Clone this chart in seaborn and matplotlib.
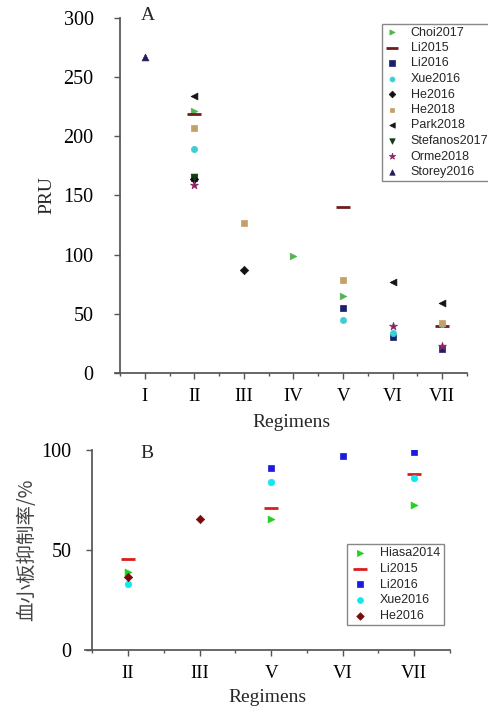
import matplotlib
matplotlib.use("Agg")
import matplotlib.pyplot as plt
import seaborn as sns
import numpy as np
import pandas as pd
from matplotlib.ticker import MultipleLocator, FixedLocator

# ---------------- data ----------------
regimens_a = ["I", "II", "III", "IV", "V", "VI", "VII"]
regimens_b = ["II", "III", "V", "VI", "VII"]

# Panel A: PRU values per study (regimen label, value)
choi2017_reg = ["II", "IV", "V"];               choi2017_val = [221, 99, 65]
li2015_reg = ["II", "V", "VII"];                li2015_val = [219, 140, 40]
li2016_reg = ["II", "V", "VI", "VII"];          li2016_val = [165, 55, 30, 20]
xue2016_reg = ["II", "V", "VI", "VII"];         xue2016_val = [189, 45, 34, 41]
he2016_reg = ["II", "III"];                     he2016_val = [164, 87]
he2018_reg = ["II", "III", "V", "VII"];         he2018_val = [207, 127, 79, 42]
park2018_reg = ["II", "VI", "VII"];             park2018_val = [234, 77, 59]
stefanos2017_reg = ["II"];                      stefanos2017_val = [166]
orme2018_reg = ["II", "VI", "VII"];             orme2018_val = [159, 40, 23]
storey2016_reg = ["I"];                         storey2016_val = [267]

# Panel B: platelet inhibition rate (%)
hiasa2014_reg = ["II", "V", "VII"];             hiasa2014_val = [39, 65.5, 72.5]
b_li2015_reg = ["II", "V", "VII"];              b_li2015_val = [45.5, 71, 88]
b_li2016_reg = ["V", "VI", "VII"];              b_li2016_val = [91, 97, 99]
b_xue2016_reg = ["II", "V", "VII"];             b_xue2016_val = [33, 84, 86]
b_he2016_reg = ["II", "III"];                   b_he2016_val = [36.5, 65.5]

series_a = [
    ("Choi2017", choi2017_reg, choi2017_val),
    ("Li2015", li2015_reg, li2015_val),
    ("Li2016", li2016_reg, li2016_val),
    ("Xue2016", xue2016_reg, xue2016_val),
    ("He2016", he2016_reg, he2016_val),
    ("He2018", he2018_reg, he2018_val),
    ("Park2018", park2018_reg, park2018_val),
    ("Stefanos2017", stefanos2017_reg, stefanos2017_val),
    ("Orme2018", orme2018_reg, orme2018_val),
    ("Storey2016", storey2016_reg, storey2016_val),
]
series_b = [
    ("Hiasa2014", hiasa2014_reg, hiasa2014_val),
    ("Li2015", b_li2015_reg, b_li2015_val),
    ("Li2016", b_li2016_reg, b_li2016_val),
    ("Xue2016", b_xue2016_reg, b_xue2016_val),
    ("He2016", b_he2016_reg, b_he2016_val),
]

style_a = {
    "Choi2017": dict(marker=">", color="#52b452", s=22),
    "Li2015": dict(marker="_", color="#6e1c1c", s=110, linewidths=2),
    "Li2016": dict(marker="s", color="#1c1f6e", s=22),
    "Xue2016": dict(marker="o", color="#3ccfcf", s=20),
    "He2016": dict(marker="D", color="#111111", s=18),
    "He2018": dict(marker="s", color="#c4a068", s=20),
    "Park2018": dict(marker="<", color="#151515", s=24),
    "Stefanos2017": dict(marker="v", color="#0d3d12", s=24),
    "Orme2018": dict(marker="*", color="#8c2466", s=36),
    "Storey2016": dict(marker="^", color="#2a1a5c", s=24),
}
style_b = {
    "Hiasa2014": dict(marker=">", color="#22d022", s=24),
    "Li2015": dict(marker="_", color="#dd1c1c", s=110, linewidths=2),
    "Li2016": dict(marker="s", color="#1a1ae0", s=22),
    "Xue2016": dict(marker="o", color="#10e8f0", s=22),
    "He2016": dict(marker="D", color="#7a0a0a", s=18),
}

serif = ["Liberation Serif", "DejaVu Serif"]
sans = ["Liberation Sans", "DejaVu Sans"]

sns.set_theme(style="ticks")
plt.rcParams["font.family"] = serif
plt.rcParams["axes.edgecolor"] = "#555555"
plt.rcParams["xtick.color"] = "#555555"
plt.rcParams["ytick.color"] = "#555555"
plt.rcParams["xtick.labelcolor"] = "black"
plt.rcParams["ytick.labelcolor"] = "black"

fig = plt.figure(figsize=(4.89, 7.09), dpi=100)
axA = fig.add_axes([115 / 489, 1 - 373 / 709, 352 / 489, 355 / 709])
axB = fig.add_axes([85 / 489, 59 / 709, 365 / 489, 200 / 709])


def draw(ax, series, styles, cats):
    pos = {c: i + 1 for i, c in enumerate(cats)}
    for name, regs, vals in series:
        df = pd.DataFrame({"x": [pos[r] for r in regs], "y": vals})
        st = dict(styles[name])
        kw = {}
        if st["marker"] != "_":
            kw["edgecolor"] = st["color"]
            kw["linewidth"] = 0.5
        sns.scatterplot(data=df, x="x", y="y", ax=ax, label=name, zorder=3,
                        legend=False, **st, **kw)
    ax.set_xlim(0.4, len(cats) + 0.5)
    ax.xaxis.set_major_locator(FixedLocator(range(1, len(cats) + 1)))
    ax.xaxis.set_minor_locator(MultipleLocator(0.5))
    ax.set_xticklabels(cats)
    ax.spines["top"].set_visible(False)
    ax.spines["right"].set_visible(False)
    ax.spines["left"].set_position(("data", 0.5))
    ax.tick_params(axis="both", which="major", length=4, width=1)
    ax.tick_params(axis="x", which="major", labelsize=13.5, pad=7)
    ax.tick_params(axis="y", which="major", labelsize=14.5)
    ax.tick_params(axis="x", which="minor", length=2.5, width=1)


draw(axA, series_a, style_a, regimens_a)
draw(axB, series_b, style_b, regimens_b)

# Panel A axes
axA.set_ylim(0, 300)
axA.yaxis.set_major_locator(MultipleLocator(50))
axA.tick_params(axis="y", pad=15)
axA.set_xlabel("Regimens", fontsize=14, labelpad=6)
axA.set_ylabel("PRU", fontsize=14, labelpad=6)
axA.text(1.06, 302, "A", fontsize=14, ha="center", va="center")

# Panel B axes
axB.set_ylim(0, 100)
axB.yaxis.set_major_locator(MultipleLocator(50))
axB.tick_params(axis="y", pad=11)
axB.set_xlabel("Regimens", fontsize=14, labelpad=5)
axB.set_ylabel("血小板抑制率/%", fontsize=14, labelpad=3,
               family=["Noto Sans CJK SC", "DejaVu Sans"], color="#444444")
axB.text(1.27, 98.5, "B", fontsize=14, ha="center", va="center")

# Legends
hA, lA = axA.get_legend_handles_labels()
legA = axA.legend(hA, lA, loc="upper left", bbox_to_anchor=(382 / 489, 1 - 24 / 709),
                  bbox_transform=fig.transFigure, prop={"family": sans, "size": 9},
                  frameon=True, fancybox=False, edgecolor="#888888", framealpha=1,
                  borderpad=0.2, labelspacing=0.28, handlelength=1.2, handletextpad=0.9,
                  borderaxespad=0, markerscale=0.8)
legA.get_frame().set_linewidth(1.0)

hB, lB = axB.get_legend_handles_labels()
legB = axB.legend(hB, lB, loc="upper left", bbox_to_anchor=(347 / 489, 1 - 544 / 709),
                  bbox_transform=fig.transFigure, prop={"family": sans, "size": 9},
                  frameon=True, fancybox=False, edgecolor="#888888", framealpha=1,
                  borderpad=0.25, labelspacing=0.3, handlelength=1.5, handletextpad=0.9,
                  borderaxespad=0, markerscale=0.9)
legB.get_frame().set_linewidth(1.0)

fig.savefig("out.png", dpi=100)
